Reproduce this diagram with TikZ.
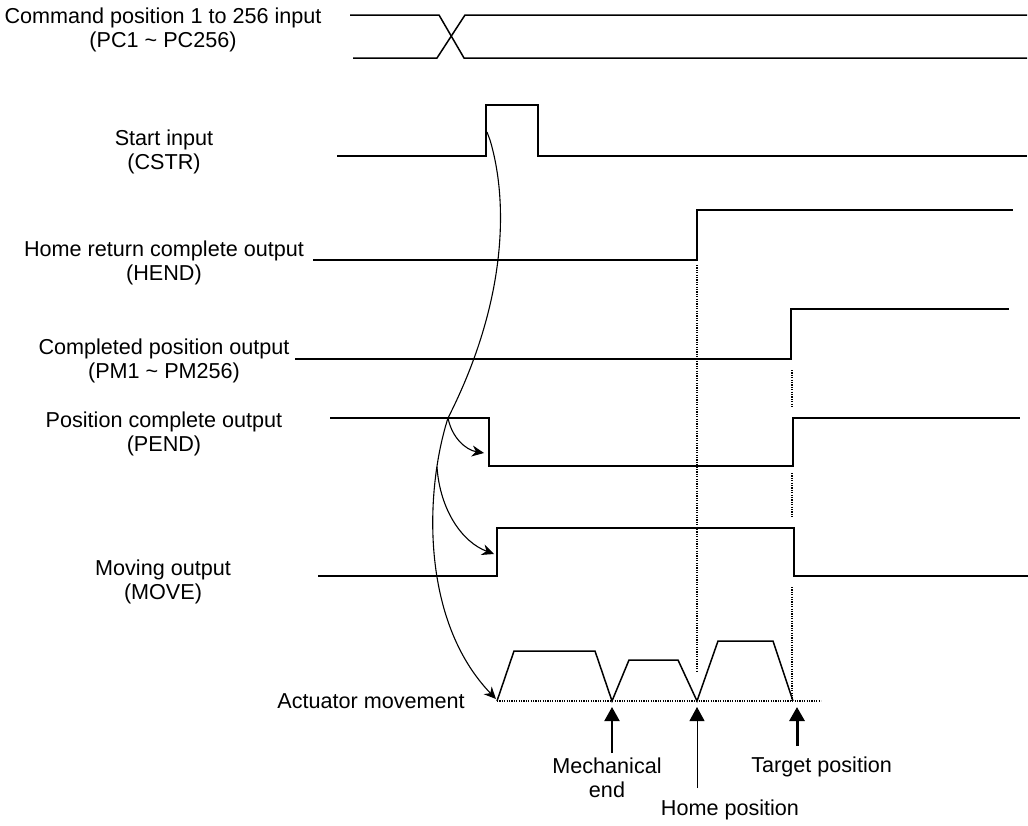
\documentclass[tikz,border=0pt]{standalone}
\usepackage{fontspec}
\setmainfont{Liberation Sans}
\usetikzlibrary{arrows.meta}
\tikzset{
  sig/.style={line width=0.75pt},
  guide/.style={line width=0.65pt,dash pattern=on 0.6pt off 0.6pt},
  flow/.style={line width=0.55pt,-{Stealth[length=6pt,width=5.5pt]}},
  lbl/.style={font=\fontsize{10.8}{12}\selectfont,align=center,inner sep=0pt},
  posarrow/.style={-{Triangle[length=7pt,width=7.5pt]}}
}
\begin{document}
\begin{tikzpicture}[x=0.5pt,y=-0.5pt]
\useasboundingbox (0,0) rectangle (1028,825);

\node[lbl] (pcLbl) at (163,30) {Command position 1 to 256 input\\(PC1 \textasciitilde{} PC256)};
\node[lbl] (cstrLbl) at (164,152) {Start input\\(CSTR)};
\node[lbl] (hendLbl) at (164,263) {Home return complete output\\(HEND)};
\node[lbl] (pmLbl) at (164,361) {Completed position output\\(PM1 \textasciitilde{} PM256)};
\node[lbl] (pendLbl) at (164,434) {Position complete output\\(PEND)};
\node[lbl] (moveLbl) at (163,582) {Moving output\\(MOVE)};
\node[lbl] (actLbl) at (371,701) {Actuator movement};
\node[lbl] (mechLbl) at (607,778) {Mechanical\\end};
\node[lbl] (homeLbl) at (730,810) {Home position};
\node[lbl,anchor=west] (tgtLbl) at (751,767) {Target position};

\draw[sig] (350,15) -- (439,15) -- (464,58) -- (1027,58);
\draw[sig] (353,58) -- (437,58) -- (465,15) -- (1027,15);
\draw[sig] (337,156) -- (486,156) -- (486,105) -- (538,105) -- (538,156) -- (1027,156);
\draw[sig] (313,260) -- (697,260) -- (697,210) -- (1013,210);
\draw[sig] (295,359) -- (791,359) -- (791,309) -- (1009,309);
\draw[sig] (330,418) -- (489,418) -- (489,466) -- (793,466) -- (793,418) -- (1020,418);
\draw[sig] (318,576) -- (497,576) -- (497,528) -- (794,528) -- (794,576) -- (1028,576);

\draw[guide] (497,701) -- (821,701);
\draw[sig] (497,701) -- (514,651) -- (595,651) -- (612,701) -- (629,660) -- (678,660)
  -- (697,701) -- (718,641) -- (773,641) -- (793,701);
\draw[guide] (697,265) -- (697,671);
\draw[guide] (792,370) -- (792,408);
\draw[guide] (792,473) -- (792,517);
\draw[guide] (792,587) -- (792,701);

\coordinate (cstrTap) at (487,132);
\coordinate (pendTap) at (448,418);
\coordinate (moveTap) at (437,467);
\coordinate (actStart) at (496,699);
\coordinate (pendTip) at (484,453);
\coordinate (moveTip) at (494,554);
\draw[flow] (cstrTap) -- (490,140) .. controls (508,200) and (508,300) .. (pendTap)
  .. controls (425,490) and (420,620) .. (actStart);
\draw[flow] (pendTap) .. controls (452,438) and (466,450) .. (pendTip);
\draw[flow] (moveTap) .. controls (440,510) and (462,542) .. (moveTip);

\coordinate (mechBase) at (612,753);
\coordinate (mechPt) at (612,707);
\coordinate (homeBase) at (697,788);
\coordinate (homePt) at (697,707);
\coordinate (tgtBase) at (797,746);
\coordinate (tgtPt) at (797,707);
\draw[posarrow,line width=1pt] (mechBase) -- (mechPt);
\draw[posarrow,line width=0.5pt] (homeBase) -- (homePt);
\draw[posarrow,line width=1.5pt] (tgtBase) -- (tgtPt);
\end{tikzpicture}
\end{document}
